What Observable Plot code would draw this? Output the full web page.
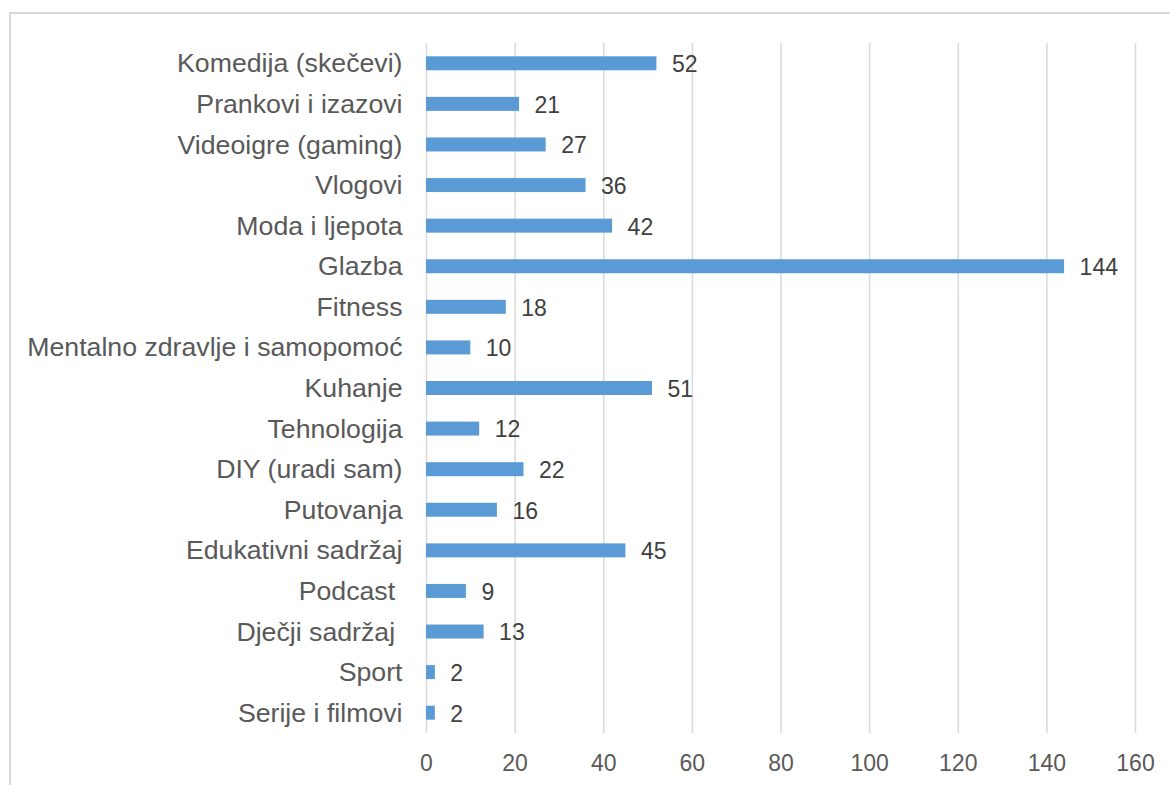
<!DOCTYPE html>
<html>
<head>
<meta charset="utf-8">
<script src="https://cdn.jsdelivr.net/npm/d3@7"></script>
<script src="https://cdn.jsdelivr.net/npm/@observablehq/plot@0.6"></script>
<style>
  html, body { margin: 0; padding: 0; background: #fff; overflow: hidden; }
  #wrap { position: relative; width: 1170px; height: 785px; overflow: hidden; }
  #border { position: absolute; left: 9px; top: 12px; width: 1170px; height: 900px; border: 2px solid #d9d9d9; box-sizing: border-box; }
  #chart { position: absolute; left: 0; top: 0; }
  #chart svg text { white-space: pre; }
</style>
</head>
<body>
<div id="wrap"><div id="border"></div><div id="chart"></div></div>
<script>
const categories = [
  "Komedija (skečevi)", "Prankovi i izazovi", "Videoigre (gaming)", "Vlogovi",
  "Moda i ljepota", "Glazba", "Fitness", "Mentalno zdravlje i samopomoć",
  "Kuhanje", "Tehnologija", "DIY (uradi sam)", "Putovanja",
  "Edukativni sadržaj", "Podcast ", "Dječji sadržaj ", "Sport", "Serije i filmovi"
];
const values = [52, 21, 27, 36, 42, 144, 18, 10, 51, 12, 22, 16, 45, 9, 13, 2, 2];
const xTicks = [0, 20, 40, 60, 80, 100, 120, 140, 160];

const data = categories.map((c, i) => ({category: c, value: values[i]}));

const chart = Plot.plot({
  width: 1170,
  height: 785,
  marginLeft: 426,
  marginRight: 35,
  marginTop: 43,
  marginBottom: 52,
  style: {fontFamily: "'Liberation Sans', Arial, sans-serif", background: "transparent"},
  x: {domain: [0, 160], ticks: xTicks},
  y: {domain: categories, padding: 0, round: false},
  marks: [
    Plot.ruleX(xTicks, {stroke: "#d9d9d9", strokeWidth: 1.5}),
    Plot.barX(data, {x: "value", y: "category", fill: "#5b9bd5", insetTop: 13.3, insetBottom: 13.3}),
    Plot.text(data, {x: "value", y: "category", text: d => String(d.value), textAnchor: "start", dx: 15, dy: 1, fontSize: 23, fill: "#404040"}),
    Plot.axisY({tickSize: 0, tickPadding: 24, fontSize: 26.7, fill: "#595959", label: null}),
    Plot.axisX({ticks: xTicks, tickSize: 0, tickPadding: 21, fontSize: 23, fill: "#595959", label: null})
  ]
});
document.getElementById("chart").appendChild(chart);
</script>
</body>
</html>
